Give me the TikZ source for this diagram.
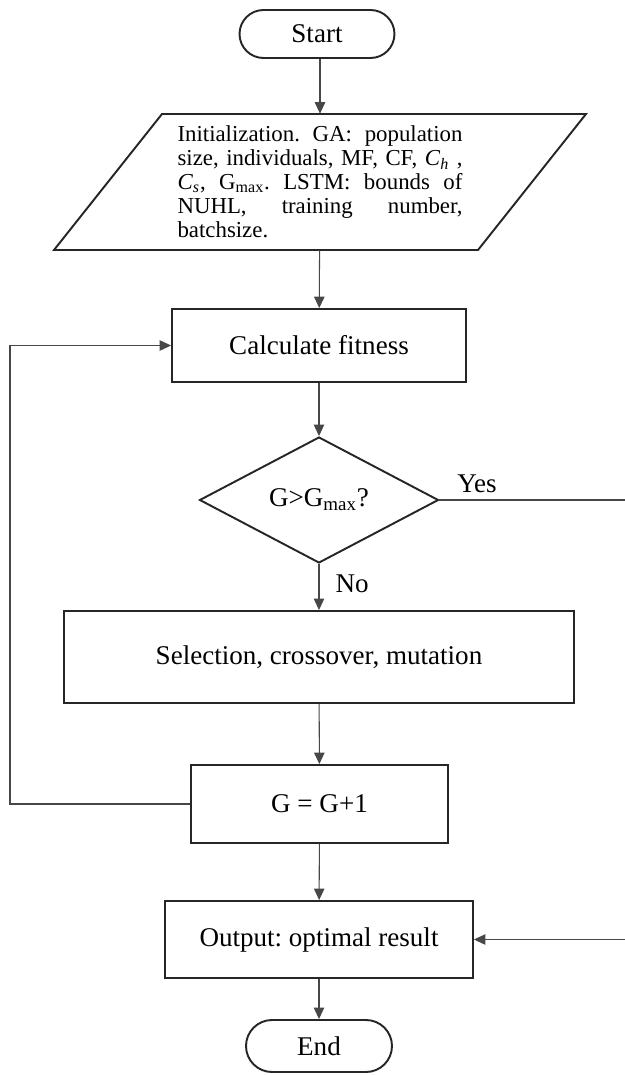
\documentclass[tikz,border=0pt]{standalone}
\usepackage{fontspec}
\setmainfont{Liberation Serif}
\usetikzlibrary{shapes.geometric,arrows.meta}
\begin{document}
\frenchspacing
\begin{tikzpicture}[x=0.02cm,y=-0.02cm,
  box/.style={draw=black!85, line width=1.1pt, rectangle, inner sep=0pt, font=\fontsize{15.4}{18}\selectfont},
  term/.style={box, rounded corners=0.48cm},
  dec/.style={draw=black!85, line width=1.1pt, diamond, aspect=1.9, inner sep=0pt, font=\fontsize{15.4}{18}\selectfont},
  conn/.style={draw=black!72, line width=0.6pt},
  arr/.style={conn, -{Triangle[length=0.23cm,width=0.21cm]}},
  lbl/.style={font=\fontsize{15.4}{18}\selectfont}
]
\useasboundingbox (0,0) rectangle (625,1075);

\node[term, minimum width=3.1cm, minimum height=0.96cm] (start) at (317,34) {Start};

\node[inner sep=0pt, minimum height=2.72cm, text width=5.7cm, align=justify,
      font=\fontsize{13}{13.6}\selectfont\frenchspacing] (init) at (320,182)
  {Initialization. GA: population\linebreak
   size, individuals, MF, CF, \textit{C}\textsubscript{\textit{h}} ,\linebreak
   \textit{C}\textsubscript{\textit{s}}, G\textsubscript{max}. LSTM: bounds of\linebreak
   NUHL, training number,\linebreak
   batchsize.\par\vspace{0.22cm}};
\draw[draw=black!85, line width=1.1pt] (162,114) -- (586,114) -- (478,250) -- (54,250) -- cycle;

\node[box, minimum width=5.88cm, minimum height=1.46cm] (calc) at (319,345.5) {Calculate fitness};
\node[dec, minimum width=4.78cm, minimum height=2.52cm] (dec) at (319,500) {G>G\textsubscript{max}?};
\node[box, minimum width=10.2cm, minimum height=1.84cm] (sel) at (319,657) {Selection, crossover, mutation};
\node[box, minimum width=5.14cm, minimum height=1.56cm] (inc) at (319.5,804) {G = G+1};
\node[box, minimum width=6.16cm, minimum height=1.54cm] (out) at (319,939.5) {Output: optimal result};
\node[term, minimum width=2.92cm, minimum height=1.04cm, rounded corners=0.52cm] (end) at (319,1046) {End};

\coordinate (lp) at (10,0);
\coordinate (rp) at (627,0);

\draw[arr] (start.south -| init.north) -- (init.north);
\draw[arr] (init) -- (calc);
\draw[arr] (calc) -- (dec);
\draw[arr] (dec) -- node[lbl, anchor=west, inner sep=0pt, xshift=0.32cm, pos=0.42] {No} (sel);
\draw[arr] (sel) -- (inc);
\draw[arr] (inc) -- (out);
\draw[arr] (out) -- (end);
\draw[arr] (inc.west) -- (inc.west -| lp) |- (calc.west);
\draw[arr] (dec.east) -- node[lbl, above, inner sep=4pt, pos=0.2] {Yes} (dec.east -| rp) |- (out.east);
\end{tikzpicture}
\end{document}
